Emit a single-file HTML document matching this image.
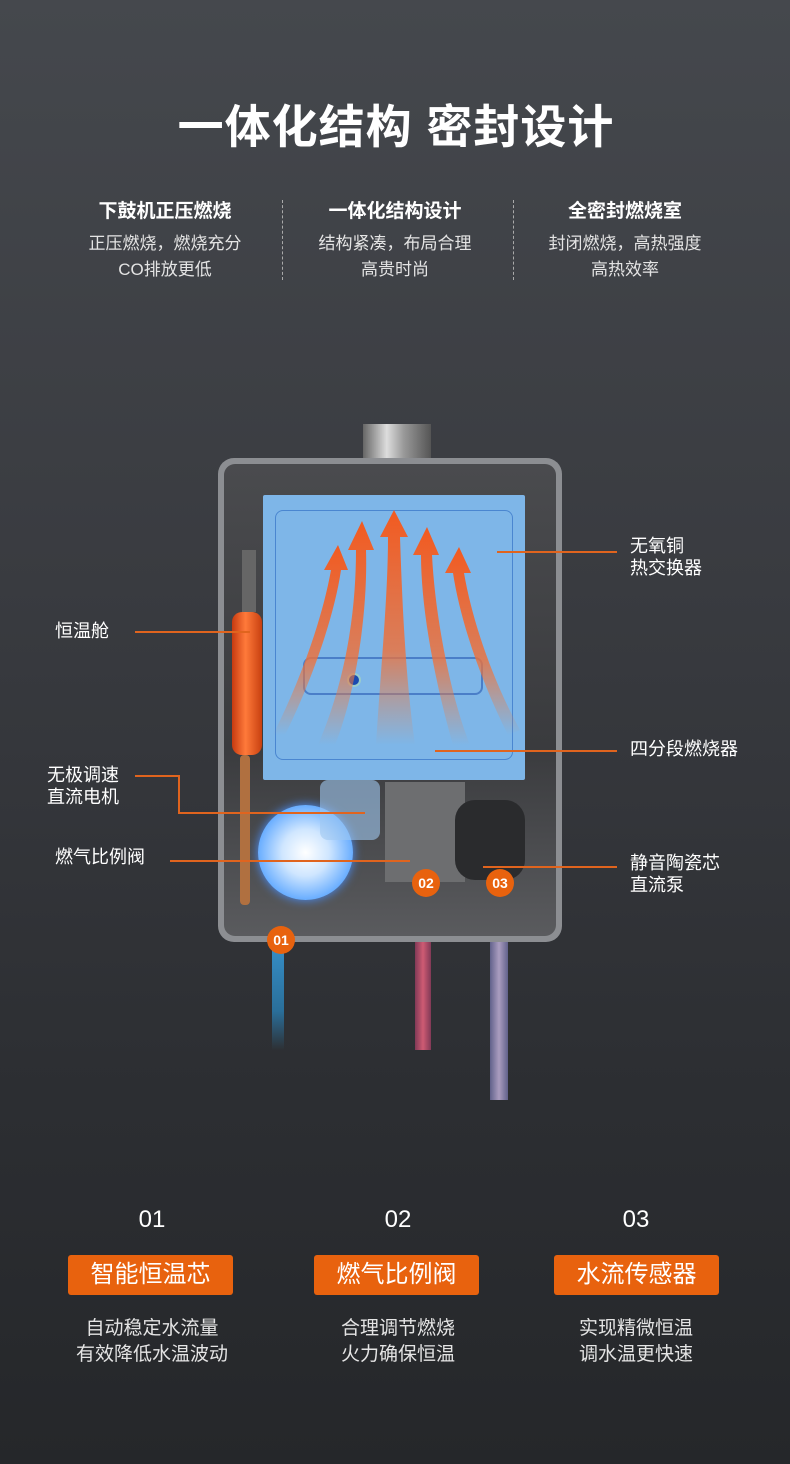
<!DOCTYPE html>
<html><head><meta charset="utf-8"><style>
*{margin:0;padding:0;box-sizing:border-box}
body{width:790px;height:1464px;overflow:hidden;background:linear-gradient(180deg,#45484d 0%,#393b40 40%,#2c2e32 75%,#25272a 100%);font-family:"Liberation Sans","Noto Sans CJK SC",sans-serif;color:#fff;position:relative}
.a{position:absolute}
.t{position:absolute;white-space:nowrap}
.c{transform:translateX(-50%);text-align:center}
.ln{position:absolute;background:#e0641e;height:1.5px}
.btn{position:absolute;width:165px;height:40px;background:#e8620e;border-radius:3px;font-size:24px;line-height:40px;text-align:center}
.num{font-size:24px}
.desc{font-size:19px;color:#e4e4e4;line-height:26px}
.badge{position:absolute;width:28px;height:28px;border-radius:50%;background:#e8620e;font-size:14px;font-weight:bold;line-height:28px;text-align:center}
.lbl{font-size:18px;line-height:22px;color:#fff}
</style></head><body>
<div class="t c" style="left:396px;top:91px;font-size:46px;font-weight:bold;letter-spacing:1px">一体化结构 密封设计</div>

<div class="t c" style="left:165px;top:196px;font-size:19px;font-weight:bold">下鼓机正压燃烧</div>
<div class="t c desc" style="left:165px;top:231px;font-size:17px">正压燃烧，燃烧充分<br>CO排放更低</div>
<div class="t c" style="left:395px;top:196px;font-size:19px;font-weight:bold">一体化结构设计</div>
<div class="t c desc" style="left:395px;top:231px;font-size:17px">结构紧凑，布局合理<br>高贵时尚</div>
<div class="t c" style="left:625px;top:196px;font-size:19px;font-weight:bold">全密封燃烧室</div>
<div class="t c desc" style="left:625px;top:231px;font-size:17px">封闭燃烧，高热强度<br>高热效率</div>
<div class="a" style="left:282px;top:200px;height:80px;border-left:1px dashed #aaa"></div>
<div class="a" style="left:513px;top:200px;height:80px;border-left:1px dashed #aaa"></div>

<!-- pipes -->
<div class="a" style="left:272px;top:920px;width:12px;height:130px;background:linear-gradient(180deg,#3a9ad8,#2a6f9a 70%,rgba(40,90,120,0))"></div>
<div class="a" style="left:415px;top:880px;width:16px;height:170px;background:linear-gradient(90deg,#8a3a5a,#e0607a 50%,#8a3a5a);opacity:.9"></div>
<div class="a" style="left:490px;top:880px;width:18px;height:220px;background:linear-gradient(90deg,#6a6a9a,#c0b0d8 50%,#6a6a9a);opacity:.85"></div>

<!-- chimney -->
<div class="a" style="left:363px;top:424px;width:68px;height:40px;background:linear-gradient(90deg,#666,#ddd 35%,#999 60%,#555)"></div>
<!-- casing -->
<div class="a" style="left:218px;top:458px;width:344px;height:484px;border-radius:16px;background:#8c8e92;padding:6px">
 <div style="width:100%;height:100%;border-radius:11px;background:linear-gradient(180deg,#4a4b4e,#3a3b3e 60%,#5a5b5e)"></div>
</div>
<!-- fan -->
<div class="a" style="left:258px;top:805px;width:95px;height:95px;border-radius:50%;background:radial-gradient(circle,#fff 0%,#cfe6ff 35%,#6aaeff 70%,#2f6fd8 100%);box-shadow:0 0 10px #4a90ff"></div>
<div class="a" style="left:320px;top:780px;width:60px;height:60px;background:rgba(160,200,240,.6);border-radius:8px"></div>
<!-- valve -->
<div class="a" style="left:385px;top:782px;width:80px;height:100px;background:#6d6e70"></div>
<div class="a" style="left:455px;top:800px;width:70px;height:80px;background:#2a2b2d;border-radius:20px"></div>
<!-- cylinder -->
<div class="a" style="left:232px;top:612px;width:30px;height:143px;border-radius:10px;background:linear-gradient(90deg,#c63a10,#ff7a3a 45%,#c84010)"></div>
<div class="a" style="left:240px;top:755px;width:10px;height:150px;background:#b07040;border-radius:4px"></div>
<div class="a" style="left:242px;top:550px;width:14px;height:62px;background:#666"></div>
<!-- blue box -->
<div class="a" style="left:263px;top:495px;width:262px;height:285px;background:#7eb6e8;border-radius:2px">
 <div class="a" style="left:12px;top:15px;width:238px;height:250px;border:1.5px solid #4a86d0;border-radius:8px"></div>
 <div class="a" style="left:40px;top:162px;width:180px;height:38px;border:2px solid #4a7ec8;border-radius:8px"></div>
 <div class="a" style="left:84px;top:178px;width:14px;height:14px;border-radius:50%;background:#1a4ab0;border:2px solid #9cc"></div>
 <svg class="a" style="left:0;top:0" width="262" height="285">
  <defs><linearGradient id="g" x1="0" y1="0" x2="0" y2="1"><stop offset="0" stop-color="#f25a20"/><stop offset="0.6" stop-color="#f07038" stop-opacity="0.8"/><stop offset="1" stop-color="#f08040" stop-opacity="0"/></linearGradient></defs>
  <g fill="url(#g)">
   <path d="M10 240 C40 180 60 120 68 75 L61 75 L75 50 L85 75 L78 75 C70 130 42 200 22 240Z"/>
   <path d="M55 250 C85 180 93 110 93 55 L85 55 L99 26 L111 55 L103 55 C105 120 92 200 72 250Z"/>
   <path d="M113 250 C118 170 125 100 125 42 L117 42 L131 15 L145 42 L137 42 C139 100 142 180 152 250Z"/>
   <path d="M190 250 C170 180 158 110 158 60 L150 60 L164 32 L176 60 L169 60 C172 120 187 200 207 250Z"/>
   <path d="M245 240 C220 190 198 130 190 78 L182 78 L196 52 L208 78 L201 78 C210 130 232 190 257 235Z"/>
  </g>
 </svg>
</div>

<!-- badges -->
<div class="badge" style="left:267px;top:926px">01</div>
<div class="badge" style="left:412px;top:869px">02</div>
<div class="badge" style="left:486px;top:869px">03</div>

<!-- leader lines -->
<div class="ln" style="left:497px;top:551px;width:120px"></div>
<div class="ln" style="left:435px;top:750px;width:182px"></div>
<div class="ln" style="left:483px;top:866px;width:134px"></div>
<div class="ln" style="left:135px;top:631px;width:115px"></div>
<div class="ln" style="left:135px;top:775px;width:44px"></div>
<div class="a" style="left:178px;top:775px;width:1.5px;height:38px;background:#e0641e"></div>
<div class="ln" style="left:178px;top:812px;width:187px"></div>
<div class="ln" style="left:170px;top:860px;width:240px"></div>

<div class="t lbl" style="left:630px;top:535px">无氧铜<br>热交换器</div>
<div class="t lbl" style="left:630px;top:738px">四分段燃烧器</div>
<div class="t lbl" style="left:630px;top:852px">静音陶瓷芯<br>直流泵</div>
<div class="t lbl" style="left:55px;top:620px">恒温舱</div>
<div class="t lbl" style="left:47px;top:764px">无极调速<br>直流电机</div>
<div class="t lbl" style="left:55px;top:846px">燃气比例阀</div>

<!-- bottom -->
<div class="t c num" style="left:152px;top:1206px">01</div>
<div class="t c num" style="left:398px;top:1206px">02</div>
<div class="t c num" style="left:636px;top:1206px">03</div>
<div class="btn" style="left:68px;top:1255px">智能恒温芯</div>
<div class="btn" style="left:314px;top:1255px">燃气比例阀</div>
<div class="btn" style="left:554px;top:1255px">水流传感器</div>
<div class="t c desc" style="left:152px;top:1316px">自动稳定水流量<br>有效降低水温波动</div>
<div class="t c desc" style="left:398px;top:1316px">合理调节燃烧<br>火力确保恒温</div>
<div class="t c desc" style="left:636px;top:1316px">实现精微恒温<br>调水温更快速</div>
</body></html>
